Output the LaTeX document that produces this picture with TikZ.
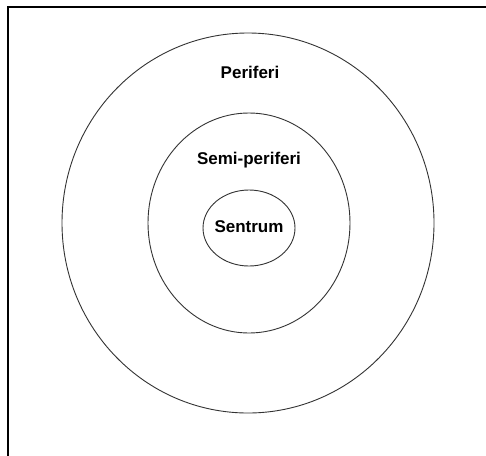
\documentclass[tikz,border=0pt]{standalone}
\usepackage{fontspec}
\setmainfont{Liberation Sans}
\usetikzlibrary{shapes.geometric}
\begin{document}
\begin{tikzpicture}[x=1pt,y=-1pt,
  ring/.style={draw=black!80,line width=0.9pt,ellipse,inner sep=0pt},
  lbl/.style={font=\fontsize{17}{19}\selectfont\bfseries,inner sep=0pt}]
\useasboundingbox (0,0) rectangle (486,455);
\fill[white] (0,0) rectangle (486,455);
\coordinate (tl) at (8,7);
\coordinate (tr) at (486,7);
\coordinate (bl) at (8,455);
\draw[line width=2.2pt,line cap=rect] (bl) -- (tl) -- (tr);
\node[ring,minimum width=372pt,minimum height=380pt] (outer) at (248,223) {};
\node[ring,minimum width=202pt,minimum height=220pt] (mid) at (249,223) {};
\node[ring,minimum width=92pt,minimum height=76pt] (inner) at (249,228) {};
\node[lbl] (p) at (250,72) {Periferi};
\node[lbl] (s) at (249,160) {Semi-periferi};
\node[lbl] (c) at (249,227) {Sentrum};
\end{tikzpicture}
\end{document}
